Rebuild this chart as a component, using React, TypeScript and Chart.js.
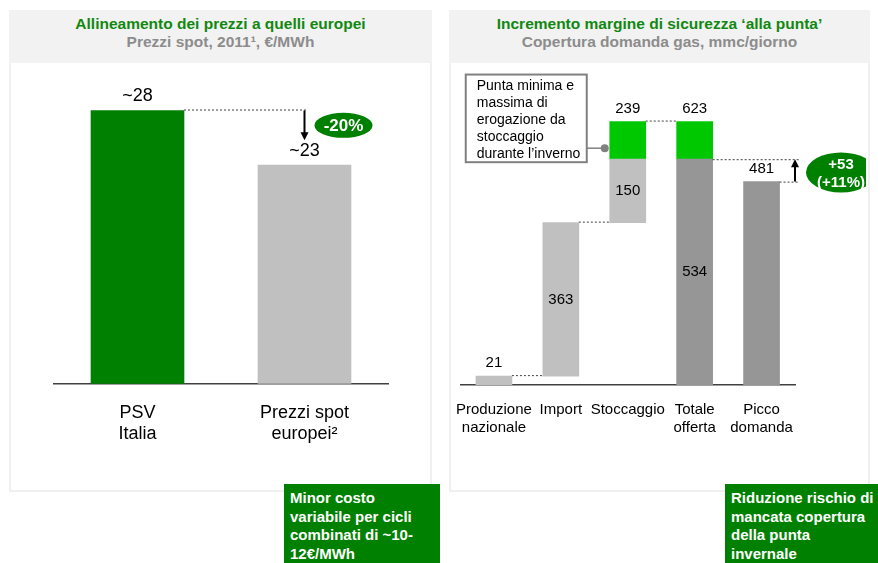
import React, { useEffect, useRef } from "react";
import { Chart, registerables } from "chart.js";

Chart.register(...registerables);

// ---------- DATA ----------
const leftCategories = [["PSV", "Italia"], ["Prezzi spot", "europei²"]];
const leftValues = [28, 22.4];
const leftValueLabels = ["~28", "~23"];
const leftChangeLabel = "-20%";

const rightCategories = [["Produzione", "nazionale"], ["Import"], ["Stoccaggio"], ["Totale", "offerta"], ["Picco", "domanda"]];
const produzioneNazionale = 21;
const importGas = 363;
const stoccaggioMin = 150;
const stoccaggioMax = 239;
const piccoDomanda = 481;
const marginLabel = ["+53", "(+11%)"];
const calloutLines = ["Punta minima e", "massima di", "erogazione da", "stoccaggio", "durante l’inverno"];

const FONT = "'Liberation Sans', Arial, sans-serif";
const DARK_GREEN = "#008000";
const BRIGHT_GREEN = "#00c800";
const LIGHT_GRAY = "#c0c0c0";
const DARK_GRAY = "#969696";

function drawArrow(ctx: CanvasRenderingContext2D, x: number, y1: number, y2: number) {
  const dir = y2 > y1 ? 1 : -1;
  ctx.save();
  ctx.strokeStyle = "#000";
  ctx.fillStyle = "#000";
  ctx.lineWidth = 2;
  ctx.setLineDash([]);
  ctx.beginPath();
  ctx.moveTo(x, y1);
  ctx.lineTo(x, y2 - dir * 6);
  ctx.stroke();
  ctx.beginPath();
  ctx.moveTo(x - 4, y2 - dir * 8);
  ctx.lineTo(x + 4, y2 - dir * 8);
  ctx.lineTo(x, y2);
  ctx.closePath();
  ctx.fill();
  ctx.restore();
}

function dashed(ctx: CanvasRenderingContext2D, x1: number, x2: number, y: number) {
  ctx.save();
  ctx.strokeStyle = "#404040";
  ctx.lineWidth = 1;
  ctx.setLineDash([2, 2]);
  ctx.beginPath();
  ctx.moveTo(x1, y + 0.5);
  ctx.lineTo(x2, y + 0.5);
  ctx.stroke();
  ctx.restore();
}

function ellipseLabel(ctx: CanvasRenderingContext2D, cx: number, cy: number, rx: number, ry: number, lines: string[], size: number) {
  ctx.save();
  ctx.fillStyle = DARK_GREEN;
  ctx.beginPath();
  ctx.ellipse(cx, cy, rx, ry, 0, 0, Math.PI * 2);
  ctx.fill();
  ctx.fillStyle = "#fff";
  ctx.font = `bold ${size}px ${FONT}`;
  ctx.textAlign = "center";
  ctx.textBaseline = "middle";
  const lh = size * 1.2;
  lines.forEach((l, i) => {
    ctx.fillText(l, cx, cy + (i - (lines.length - 1) / 2) * lh + 1);
  });
  ctx.restore();
}

const leftPlugin = {
  id: "leftAnnotations",
  afterDatasetsDraw(chart: any) {
    const ctx = chart.ctx as CanvasRenderingContext2D;
    const y = chart.scales.y;
    const bars = chart.getDatasetMeta(0).data;
    ctx.save();
    ctx.fillStyle = "#000";
    ctx.font = `18px ${FONT}`;
    ctx.textAlign = "center";
    ctx.textBaseline = "middle";
    leftValues.forEach((v, i) => {
      ctx.fillText(leftValueLabels[i], bars[i].x, y.getPixelForValue(v) - 14);
    });
    ctx.restore();
    const topY = y.getPixelForValue(leftValues[0]);
    const x2 = bars[1].x;
    dashed(ctx, bars[0].x + bars[0].width / 2, x2 + 2, topY - 1);
    const arrowEnd = y.getPixelForValue(leftValues[1]) - 25;
    drawArrow(ctx, x2, topY, arrowEnd);
    ellipseLabel(ctx, x2 + 39, (topY + arrowEnd) / 2, 29, 12.5, [leftChangeLabel], 17);
  },
};

const rightPlugin = {
  id: "rightAnnotations",
  afterDatasetsDraw(chart: any) {
    const ctx = chart.ctx as CanvasRenderingContext2D;
    const y = chart.scales.y;
    const area = chart.chartArea;
    const xs = chart.scales.x;
    const half = 18;
    const cx = (i: number) => xs.getPixelForValue(i);
    const importTop = produzioneNazionale + importGas;
    const totMin = importTop + stoccaggioMin;
    const totMax = importTop + stoccaggioMax;

    // connectors
    dashed(ctx, cx(0) + half, cx(1) - half, y.getPixelForValue(produzioneNazionale) - 1);
    dashed(ctx, cx(1) + half, cx(2) - half, y.getPixelForValue(importTop) - 1);
    dashed(ctx, cx(2) + half, cx(3) - half, y.getPixelForValue(totMax) - 1);
    const arrowX = area.right;
    dashed(ctx, cx(3) + half, arrowX + 4, y.getPixelForValue(totMin));
    dashed(ctx, cx(4) + half, arrowX + 4, y.getPixelForValue(piccoDomanda));
    drawArrow(ctx, arrowX, y.getPixelForValue(piccoDomanda), y.getPixelForValue(totMin));
    ellipseLabel(ctx, arrowX + 46, (y.getPixelForValue(piccoDomanda) + y.getPixelForValue(totMin)) / 2 + 2, 35, 20, marginLabel, 15);

    // value labels
    ctx.save();
    ctx.fillStyle = "#000";
    ctx.font = `15px ${FONT}`;
    ctx.textAlign = "center";
    ctx.textBaseline = "middle";
    ctx.fillText(String(produzioneNazionale), cx(0), y.getPixelForValue(produzioneNazionale) - 13);
    ctx.fillText(String(importGas), cx(1), (y.getPixelForValue(produzioneNazionale) + y.getPixelForValue(importTop)) / 2);
    ctx.fillText(String(stoccaggioMin), cx(2), (y.getPixelForValue(importTop) + y.getPixelForValue(totMin)) / 2);
    ctx.fillText(String(stoccaggioMax), cx(2), y.getPixelForValue(totMax) - 13);
    ctx.fillText(String(totMax), cx(3), y.getPixelForValue(totMax) - 13);
    ctx.fillText(String(totMin), cx(3), (y.getPixelForValue(0) + y.getPixelForValue(totMin)) / 2);
    ctx.fillText(String(piccoDomanda), cx(4), y.getPixelForValue(piccoDomanda) - 13);
    ctx.restore();

    // callout
    const bx2 = cx(2) - half - 23;
    const bx1 = bx2 - 121;
    const by1 = y.getPixelForValue(totMax) - 47;
    const by2 = y.getPixelForValue(totMin) + 3;
    ctx.save();
    ctx.fillStyle = "#fff";
    ctx.fillRect(bx1, by1, bx2 - bx1, by2 - by1);
    ctx.strokeStyle = "#808080";
    ctx.lineWidth = 2;
    ctx.strokeRect(bx1, by1, bx2 - bx1, by2 - by1);
    ctx.fillStyle = "#000";
    ctx.font = `14px ${FONT}`;
    ctx.textAlign = "left";
    ctx.textBaseline = "middle";
    calloutLines.forEach((l, i) => ctx.fillText(l, bx1 + 11, by1 + 11.5 + i * 17));
    const dotY = y.getPixelForValue(totMin) - 11;
    ctx.strokeStyle = "#808080";
    ctx.lineWidth = 1.5;
    ctx.beginPath();
    ctx.moveTo(bx2, dotY);
    ctx.lineTo(cx(2) - half - 5, dotY);
    ctx.stroke();
    ctx.fillStyle = "#808080";
    ctx.beginPath();
    ctx.arc(cx(2) - half - 5, dotY, 4, 0, Math.PI * 2);
    ctx.fill();
    ctx.restore();
  },
};

function LeftChart() {
  const ref = useRef<HTMLCanvasElement>(null);
  useEffect(() => {
    const chart = new Chart(ref.current!, {
      type: "bar",
      data: {
        labels: leftCategories as any,
        datasets: [{ data: leftValues, backgroundColor: [DARK_GREEN, LIGHT_GRAY], barThickness: 93 }],
      },
      options: {
        responsive: false,
        animation: false,
        layout: { padding: { left: 43, right: 42, top: 28, bottom: 28 } },
        plugins: { legend: { display: false }, tooltip: { enabled: false } },
        scales: {
          x: {
            grid: { display: false, drawTicks: false },
            border: { display: true, color: "#404040", width: 1.5 },
            ticks: { color: "#000", font: { family: FONT, size: 18 }, padding: 18, maxRotation: 0, minRotation: 0, autoSkip: false },
          },
          y: { display: false, min: 0, max: 30 },
        },
      },
      plugins: [leftPlugin],
    });
    return () => chart.destroy();
  }, []);
  return <canvas ref={ref} width={419} height={428} style={{ position: "absolute", left: 11, top: 63, width: 419, height: 428 }} />;
}

function RightChart() {
  const ref = useRef<HTMLCanvasElement>(null);
  useEffect(() => {
    const importTop = produzioneNazionale + importGas;
    const totMin = importTop + stoccaggioMin;
    const totMax = importTop + stoccaggioMax;
    const chart = new Chart(ref.current!, {
      type: "bar",
      data: {
        labels: rightCategories as any,
        datasets: [
          { data: [[0, produzioneNazionale], [produzioneNazionale, importTop], [importTop, totMin], null, null] as any, backgroundColor: LIGHT_GRAY, barThickness: 36, grouped: false },
          { data: [null, null, null, [0, totMin], [0, piccoDomanda]] as any, backgroundColor: DARK_GRAY, barThickness: 36, grouped: false },
          { data: [null, null, [totMin, totMax], [totMin, totMax], null] as any, backgroundColor: BRIGHT_GREEN, barThickness: 36, grouped: false },
        ],
      },
      options: {
        responsive: false,
        animation: false,
        layout: { padding: { left: 0, right: 71, top: 26, bottom: 38 } },
        plugins: { legend: { display: false }, tooltip: { enabled: false } },
        scales: {
          x: {
            grid: { display: false, drawTicks: false },
            border: { display: true, color: "#404040", width: 1.5 },
            ticks: { color: "#000", font: { family: FONT, size: 15 }, padding: 16, maxRotation: 0, minRotation: 0, autoSkip: false },
          },
          y: { display: false, min: 0, max: 700 },
        },
      },
      plugins: [rightPlugin],
    });
    return () => chart.destroy();
  }, []);
  return <canvas ref={ref} width={426} height={428} style={{ position: "absolute", left: 440, top: 63, width: 426, height: 428 }} />;
}

function Panel({ left, width, title, subtitle }: { left: number; width: number; title: string; subtitle: string }) {
  return (
    <div style={{ position: "absolute", left, top: 10, width, height: 482, border: "2px solid #f0f0f0", boxSizing: "border-box", background: "#fff" }}>
      <div style={{ position: "absolute", left: -2, top: -2, width, height: 53, background: "#f2f2f2" }} />
      <div style={{ position: "absolute", left: 0, right: 0, top: 3, textAlign: "center", font: `bold 15.5px ${FONT}`, lineHeight: "18px", color: "#118811" }}>{title}</div>
      <div style={{ position: "absolute", left: 0, right: 0, top: 21, textAlign: "center", font: `bold 15.5px ${FONT}`, lineHeight: "18px", color: "#8c8c8c" }}>{subtitle}</div>
    </div>
  );
}

function GreenBox({ left, width, lines }: { left: number; width: number; lines: string[] }) {
  return (
    <div style={{ position: "absolute", left, top: 484, width, height: 79, background: DARK_GREEN, color: "#fff", font: `bold 15px ${FONT}`, lineHeight: "18.7px", padding: "5px 0 0 6px", boxSizing: "border-box", whiteSpace: "nowrap", overflow: "hidden" }}>
      {lines.map((l, i) => (
        <div key={i}>{l}</div>
      ))}
    </div>
  );
}

export default function App() {
  return (
    <div style={{ position: "fixed", left: 0, top: 0, width: 878, height: 563, background: "#fff", overflow: "hidden" }}>
      <Panel left={9} width={423} title="Allineamento dei prezzi a quelli europei" subtitle="Prezzi spot, 2011¹, €/MWh" />
      <Panel left={449} width={421} title="Incremento margine di sicurezza ‘alla punta’" subtitle="Copertura domanda gas, mmc/giorno" />
      <LeftChart />
      <RightChart />
      <GreenBox left={284} width={156} lines={["Minor costo", "variabile per cicli", "combinati di ~10-", "12€/MWh"]} />
      <GreenBox left={725} width={153} lines={["Riduzione rischio di", "mancata copertura", "della punta", "invernale"]} />
    </div>
  );
}
